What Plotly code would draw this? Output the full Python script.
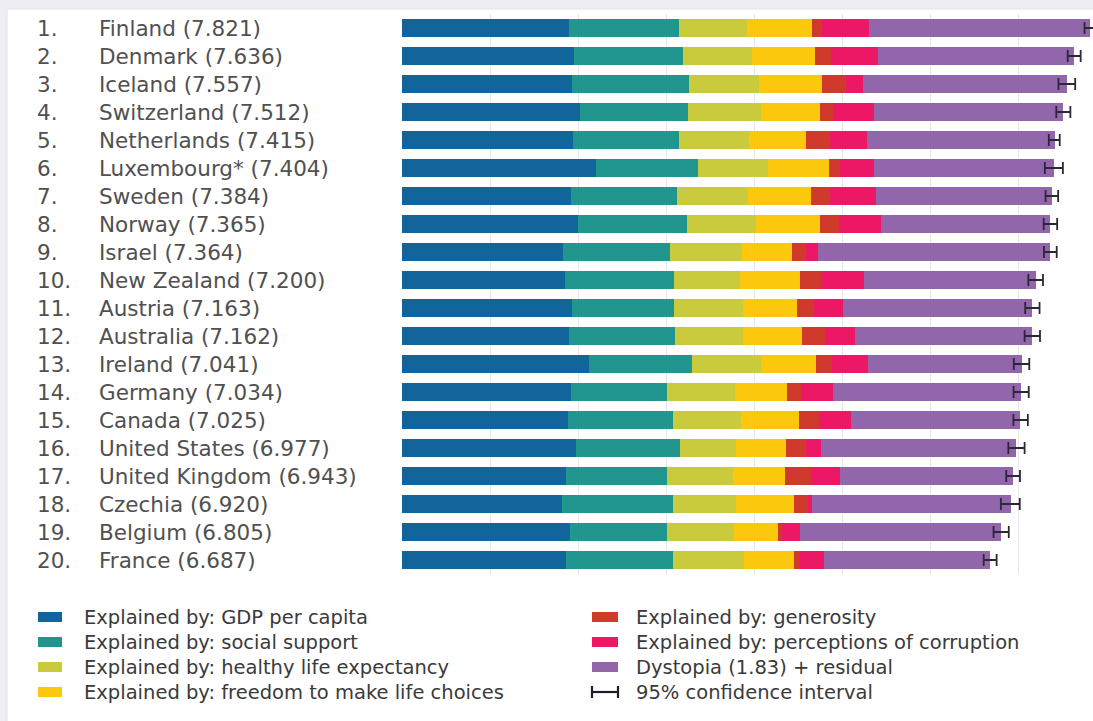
import plotly.graph_objects as go

countries = ["Finland", "Denmark", "Iceland", "Switzerland", "Netherlands", "Luxembourg*",
             "Sweden", "Norway", "Israel", "New Zealand", "Austria", "Australia", "Ireland",
             "Germany", "Canada", "United States", "United Kingdom", "Czechia", "Belgium", "France"]
scores = [7.821, 7.636, 7.557, 7.512, 7.415, 7.404, 7.384, 7.365, 7.364, 7.200,
          7.163, 7.162, 7.041, 7.034, 7.025, 6.977, 6.943, 6.920, 6.805, 6.687]
gdp = [1.892, 1.953, 1.936, 2.026, 1.945, 2.209, 1.920, 1.997, 1.826, 1.852,
       1.931, 1.900, 2.129, 1.924, 1.886, 1.982, 1.867, 1.815, 1.907, 1.863]
social = [1.258, 1.243, 1.320, 1.226, 1.206, 1.155, 1.204, 1.239, 1.221, 1.235,
          1.165, 1.203, 1.166, 1.088, 1.188, 1.182, 1.143, 1.260, 1.106, 1.219]
health = [0.775, 0.777, 0.803, 0.822, 0.787, 0.790, 0.803, 0.786, 0.818, 0.752,
          0.774, 0.772, 0.779, 0.776, 0.783, 0.628, 0.750, 0.715, 0.764, 0.808]
freedom = [0.736, 0.719, 0.718, 0.677, 0.651, 0.700, 0.724, 0.728, 0.568, 0.680,
           0.623, 0.676, 0.627, 0.585, 0.659, 0.574, 0.597, 0.660, 0.492, 0.567]
generosity = [0.109, 0.188, 0.270, 0.147, 0.271, 0.120, 0.218, 0.217, 0.155, 0.245,
              0.193, 0.258, 0.190, 0.163, 0.217, 0.220, 0.289, 0.158, 0.049, 0.070]
corruption = [0.534, 0.532, 0.191, 0.461, 0.419, 0.388, 0.512, 0.474, 0.143, 0.483,
              0.329, 0.341, 0.408, 0.358, 0.368, 0.177, 0.329, 0.048, 0.204, 0.266]
dystopia = [2.518, 2.226, 2.320, 2.153, 2.137, 2.042, 2.003, 1.925, 2.634, 1.954,
            2.148, 2.012, 1.741, 2.139, 1.925, 2.214, 1.967, 2.264, 2.283, 1.894]
ci_lower = [7.756, 7.565, 7.460, 7.435, 7.350, 7.305, 7.313, 7.292, 7.295, 7.117,
            7.082, 7.075, 6.952, 6.950, 6.948, 6.890, 6.866, 6.805, 6.722, 6.610]
ci_upper = [7.886, 7.712, 7.650, 7.595, 7.474, 7.510, 7.456, 7.445, 7.440, 7.284,
            7.245, 7.250, 7.128, 7.122, 7.112, 7.075, 7.022, 7.020, 6.895, 6.757]

series_names = ["Explained by: GDP per capita", "Explained by: social support",
                "Explained by: healthy life expectancy", "Explained by: freedom to make life choices",
                "Explained by: generosity", "Explained by: perceptions of corruption",
                "Dystopia (1.83) + residual"]
ci_label = "95% confidence interval"
series_values = [gdp, social, health, freedom, generosity, corruption, dystopia]
colors = ["#11659A", "#21968F", "#C9CB3D", "#FCC80D", "#CF3A2C", "#EC1865", "#9266AA"]

W, H = 1093, 721
L, R, T, B = 402, 0, 14, 147
PW, PH = W - L - R, H - T - B
PX_PER_UNIT = 88.0


def px_x(px):
    return (px - L) / PW


def px_y(py):
    return (H - B - py) / PH


fig = go.Figure()
for name, vals, col in zip(series_names, series_values, colors):
    fig.add_trace(go.Bar(
        x=vals, y=countries, orientation="h", name=name,
        marker=dict(color=col, line=dict(width=0)), width=0.64, showlegend=False,
    ))

fig.add_trace(go.Scatter(
    x=scores, y=countries, mode="markers", name=ci_label, showlegend=False,
    marker=dict(size=1, opacity=0),
    error_x=dict(type="data", symmetric=False,
                 array=[u - s for u, s in zip(ci_upper, scores)],
                 arrayminus=[s - l for s, l in zip(scores, ci_lower)],
                 color="#2a2838", thickness=1.8, width=6),
))

annotations = []
name_font = dict(family="DejaVu Sans", size=21.5, color="#505050")
for i, (c, s) in enumerate(zip(countries, scores)):
    annotations.append(dict(xref="paper", yref="y", x=px_x(35), y=c, text=f"{i + 1}.",
                            xanchor="left", yanchor="middle", showarrow=False, font=name_font))
    annotations.append(dict(xref="paper", yref="y", x=px_x(97), y=c, text=f"{c} ({s:.3f})",
                            xanchor="left", yanchor="middle", showarrow=False, font=name_font))

shapes = []
# background frame
shapes.append(dict(type="rect", xref="paper", yref="paper", x0=px_x(0), x1=px_x(W),
                   y0=px_y(0), y1=px_y(H), fillcolor="#EDEDF3", line=dict(width=0), layer="below"))
shapes.append(dict(type="rect", xref="paper", yref="paper", x0=px_x(7), x1=px_x(W + 5),
                   y0=px_y(9), y1=px_y(H + 5), fillcolor="#FFFFFF",
                   line=dict(width=1, color="#E2E2E8"), layer="below"))

# legend (drawn manually, two columns)
legend_font = dict(family="DejaVu Sans", size=19.5, color="#3a3a3a")
row_y = [617, 642, 667, 692]
col_sw = [(38, 62, 82), (592, 618, 634)]
items = list(zip(series_names, colors)) + [(ci_label, None)]
for k, (label, col) in enumerate(items):
    c_idx, r_idx = divmod(k, 4)
    sx0, sx1, tx = col_sw[c_idx]
    yy = row_y[r_idx]
    if col is not None:
        shapes.append(dict(type="rect", xref="paper", yref="paper", x0=px_x(sx0), x1=px_x(sx1),
                           y0=px_y(yy + 5), y1=px_y(yy - 5), fillcolor=col, line=dict(width=0)))
    else:
        lc = dict(color="#1e1e28", width=2.2)
        shapes.append(dict(type="line", xref="paper", yref="paper", x0=px_x(sx0), x1=px_x(sx1),
                           y0=px_y(yy), y1=px_y(yy), line=lc))
        for ex in (sx0, sx1):
            shapes.append(dict(type="line", xref="paper", yref="paper", x0=px_x(ex), x1=px_x(ex),
                               y0=px_y(yy - 6), y1=px_y(yy + 6), line=lc))
    annotations.append(dict(xref="paper", yref="paper", x=px_x(tx), y=px_y(yy), text=label,
                            xanchor="left", yanchor="middle", showarrow=False, font=legend_font))

fig.update_layout(
    width=W, height=H, barmode="stack", bargap=0.36,
    margin=dict(l=L, r=R, t=T, b=B, pad=0),
    paper_bgcolor="#FFFFFF", plot_bgcolor="rgba(0,0,0,0)",
    showlegend=False, annotations=annotations, shapes=shapes,
    xaxis=dict(range=[0, PW / PX_PER_UNIT], dtick=1, tick0=0, showgrid=True, gridcolor="#E6E6EA",
               gridwidth=1, zeroline=False, showticklabels=False, showline=False, fixedrange=True),
    yaxis=dict(range=[len(countries) - 0.5, -0.5], showticklabels=False, showgrid=False,
               zeroline=False, showline=False, fixedrange=True),
)

fig.write_html("out.html", config={"displayModeBar": False},
               post_script="document.body.style.margin='0';document.body.style.overflow='hidden';")
